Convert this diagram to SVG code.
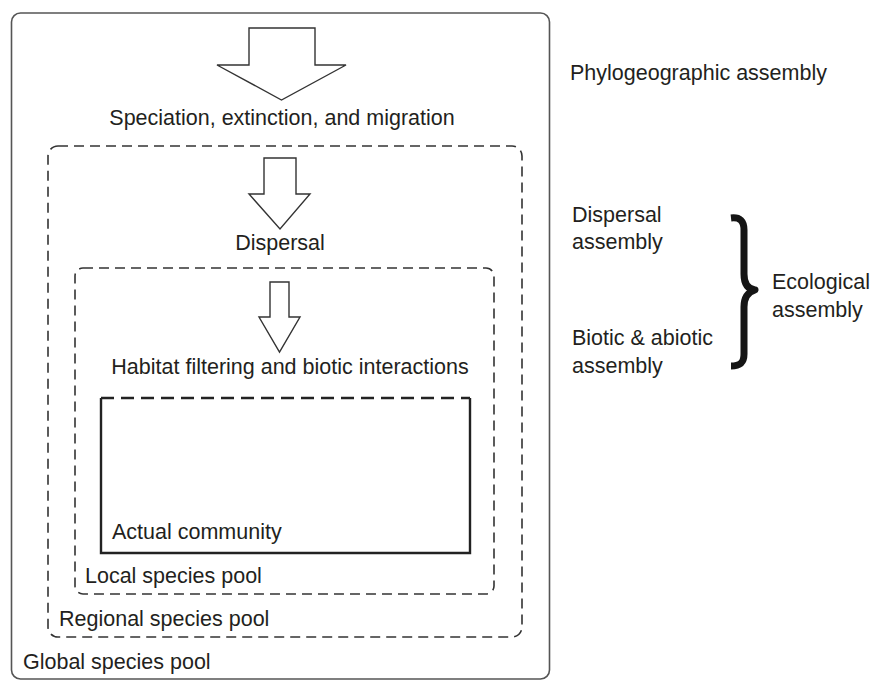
<svg xmlns="http://www.w3.org/2000/svg" width="873" height="681" viewBox="0 0 873 681">
<style>
text{font-family:"Liberation Sans",Arial,Helvetica,sans-serif;font-size:21.5px;fill:#231f20}
.mid{text-anchor:middle}
.pool{fill:none;stroke:#333;stroke-width:1.6;stroke-dasharray:10 6}
.arrow{fill:#fff;stroke:#333;stroke-width:1.4;stroke-linejoin:miter}
</style>
<rect width="873" height="681" fill="#fff"/>
<g id="global-pool">
<rect x="11.5" y="13" width="538" height="666" rx="9" fill="none" stroke="#555" stroke-width="1.6"/>
<text x="23" y="669">Global species pool</text>
</g>
<g id="regional-pool">
<rect x="48" y="146" width="474" height="491" rx="10" class="pool"/>
<text x="59" y="626">Regional species pool</text>
</g>
<g id="local-pool">
<rect x="75" y="268" width="419" height="326" rx="8" class="pool"/>
<text x="85" y="583">Local species pool</text>
</g>
<g id="actual-community">
<line x1="101" y1="398" x2="470" y2="398" stroke="#222" stroke-width="2.6" stroke-dasharray="13 7"/>
<polyline points="101,398 101,553 470,553 470,398" fill="none" stroke="#222" stroke-width="2.4"/>
<text x="112" y="539">Actual community</text>
</g>
<g id="connectors">
<polygon class="arrow" points="249,28 315,28 315,65 346,65 281.5,100 217,65 249,65"/>
<polygon class="arrow" points="264,158 296,158 296,194 310,194 280,229 249,194 264,194"/>
<polygon class="arrow" points="270,282 289,282 289,317 300,317 279.5,352 259,317 270,317"/>
</g>
<g id="labels">
<text class="mid" x="282" y="125">Speciation, extinction, and migration</text>
<text class="mid" x="280" y="250">Dispersal</text>
<text class="mid" x="290" y="374">Habitat filtering and biotic interactions</text>
</g>
<g id="scale-labels">
<text x="570" y="80">Phylogeographic assembly</text>
<text x="572" y="222">Dispersal</text>
<text x="572" y="249">assembly</text>
<text x="572" y="345">Biotic &amp; abiotic</text>
<text x="572" y="373">assembly</text>
<text x="772" y="289">Ecological</text>
<text x="772" y="317">assembly</text>
<path d="M731,218 C740,217 744,221 744,230 L744,274 C744,284 748,289 755,290 C748,292 744,297 744,307 L744,354 C744,363 740,366 731,366" fill="none" stroke="#151515" stroke-width="7" stroke-linecap="butt" stroke-linejoin="round"/>
</g>
</svg>
